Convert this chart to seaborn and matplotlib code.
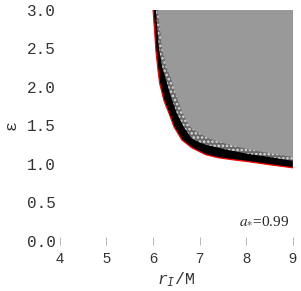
import matplotlib
matplotlib.use("Agg")
import matplotlib.pyplot as plt
import seaborn as sns
import pandas as pd

# Outer (red) boundary of the region
outer_r = [6.00, 6.03, 6.06, 6.10, 6.14, 6.19, 6.23, 6.28, 6.34, 6.45, 6.62, 6.83, 7.13, 7.40, 7.70, 8.04, 8.50, 9.00]
outer_eps = [3.00, 2.75, 2.48, 2.25, 2.05, 1.93, 1.83, 1.75, 1.66, 1.48, 1.31, 1.21, 1.12, 1.08, 1.055, 1.03, 0.99, 0.95]
# Black band inner edge
black_r = [6.06, 6.13, 6.20, 6.28, 6.38, 6.51, 6.66, 6.83, 7.00, 7.13, 7.40, 7.70, 8.05, 8.50, 9.00]
black_eps = [3.00, 2.48, 2.25, 2.09, 1.88, 1.66, 1.48, 1.33, 1.28, 1.25, 1.21, 1.17, 1.13, 1.09, 1.04]
# Speckled band inner edge (start of uniform gray)
gray_r = [6.10, 6.20, 6.29, 6.39, 6.51, 6.63, 6.78, 6.96, 7.13, 7.40, 7.70, 8.05, 8.50, 9.00]
gray_eps = [3.00, 2.48, 2.25, 2.10, 1.86, 1.67, 1.49, 1.41, 1.35, 1.29, 1.24, 1.19, 1.14, 1.09]

x_ticks = [4, 5, 6, 7, 8, 9]
y_ticks = [0.0, 0.5, 1.0, 1.5, 2.0, 2.5, 3.0]
y_ticklabels = ["0.0", "0.5", "1.0", "1.5", "2.0", "2.5", "3.0"]
spin_label = r"$a_{*}$=0.99"

sns.set_theme(style="white")
plt.rcParams["mathtext.fontset"] = "custom"
plt.rcParams["mathtext.it"] = "Liberation Mono:italic"
plt.rcParams["mathtext.rm"] = "Liberation Mono"
plt.rcParams["hatch.linewidth"] = 1.2

fig = plt.figure(figsize=(3.01, 2.91), dpi=100)
ax = fig.add_axes([0.199, 0.172, 0.774, 0.794])

corner_r, corner_eps = 9.0, 3.0
ax.fill(outer_r + [corner_r], outer_eps + [corner_eps], color="black", lw=0, zorder=1)
ax.fill(black_r + [corner_r], black_eps + [corner_eps], facecolor="#6a6a6a",
        edgecolor="#dddddd", hatch="....", lw=0, zorder=2)
ax.fill(gray_r + [corner_r], gray_eps + [corner_eps], color="#999999", lw=0, zorder=3)

df = pd.DataFrame({"r": outer_r, "eps": outer_eps})
sns.lineplot(data=df, x="r", y="eps", sort=False, color="red", lw=0.9, ax=ax, zorder=4)

ax.set_xlim(4, 9)
ax.set_ylim(0, 3)
for s in ax.spines.values():
    s.set_visible(False)

ax.set_xticks(x_ticks)
ax.set_xticklabels([str(t) for t in x_ticks], family="Liberation Sans", fontsize=10.5, color="#333333")
ax.set_yticks(y_ticks)
ax.set_yticklabels(y_ticklabels, family="Liberation Mono", fontsize=11.5, color="#333333")
ax.tick_params(axis="x", direction="inout", length=6, width=0.6, color="#aaaaaa", pad=5, bottom=True)
ax.tick_params(axis="y", length=0, pad=3, left=False)

ax.set_xlabel(r"$r_I$/M", family="Liberation Mono", fontsize=12, color="#333333", labelpad=3)
ax.set_ylabel("ε", family="Liberation Mono", fontsize=12, color="#333333", labelpad=6)

ax.text(8.38, 0.26, spin_label, family="Liberation Serif", fontsize=11,
        ha="center", va="center", math_fontfamily="stix")

fig.savefig("out.png", dpi=100)
